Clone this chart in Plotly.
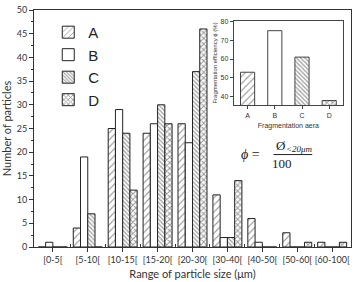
import plotly.graph_objects as go

categories = ["[0-5[", "[5-10[", "[10-15[", "[15-20[", "[20-30[", "[30-40[", "[40-50[", "[50-60[", "[60-100["]
series_names = ["A", "B", "C", "D"]
values_A = [0, 4, 25, 24, 26, 11, 6, 3, 1]
values_B = [1, 19, 29, 26, 22, 2, 1, 0, 0]
values_C = [0, 7, 24, 30, 37, 2, 0, 0, 0]
values_D = [0, 0, 12, 26, 46, 14, 0, 1, 1]

inset_categories = ["A", "B", "C", "D"]
inset_values = [53, 75, 61, 38]

y_ticks = [0, 5, 10, 15, 20, 25, 30, 35, 40, 45, 50]
inset_y_ticks = [40, 50, 60, 70, 80]

styles = {
    "A": dict(shape="/", fg="#3a3a3a", size=5, solidity=0.22),
    "B": dict(shape="", fg="#333333", size=5, solidity=0.3),
    "C": dict(shape="\\", fg="#4a4a4a", size=3, solidity=0.45),
    "D": dict(shape="x", fg="#333333", size=4, solidity=0.45),
}

FONT = "Lato"
TXT = "#333333"
fig = go.Figure()
xs = list(range(len(categories)))
for name, vals in zip(series_names, [values_A, values_B, values_C, values_D]):
    st = styles[name]
    fig.add_trace(go.Bar(
        x=xs, y=vals, name=name,
        marker=dict(color="white", line=dict(color="#222222", width=1),
                    pattern=dict(shape=st["shape"], fgcolor=st["fg"], bgcolor="white",
                                 size=st["size"], solidity=st["solidity"], fillmode="overlay")),
        xaxis="x", yaxis="y",
    ))

fig.add_trace(go.Bar(
    x=list(range(len(inset_categories))), y=inset_values, showlegend=False, width=0.52,
    marker=dict(color="white", line=dict(color="#444444", width=1),
                pattern=dict(shape=[styles[c]["shape"] for c in inset_categories],
                             fgcolor=[styles[c]["fg"] for c in inset_categories],
                             bgcolor="white", size=[styles[c]["size"] for c in inset_categories],
                             solidity=[styles[c]["solidity"] for c in inset_categories],
                             fillmode="overlay")),
    xaxis="x2", yaxis="y2",
))

fig.update_layout(
    width=356, height=282,
    margin=dict(l=33, r=4, t=6, b=35),
    paper_bgcolor="white", plot_bgcolor="white",
    barmode="group", bargap=0.17, bargroupgap=0,
    font=dict(family=FONT, color=TXT, size=9),
    showlegend=True,
    legend=dict(x=0.045, y=0.975, xanchor="left", yanchor="top", bgcolor="rgba(0,0,0,0)",
                font=dict(size=15, family="Liberation Sans", color="#222222"),
                tracegroupgap=0, itemwidth=30),
    xaxis=dict(
        domain=[0, 1], range=[-0.54, 8.54],
        tickmode="array", tickvals=xs, ticktext=categories,
        ticks="outside", ticklen=4, tickcolor="#333333",
        minor=dict(tickvals=[i + 0.5 for i in xs[:-1]], ticks="inside", ticklen=3, tickcolor="#333333"),
        showline=True, linecolor="#333333", linewidth=1, mirror=True,
        showgrid=False, zeroline=False,
        tickfont=dict(size=9, family=FONT, color=TXT),
        title=dict(text="Range of particle size (μm)", font=dict(size=11, family=FONT, color=TXT), standoff=6),
    ),
    yaxis=dict(
        domain=[0, 1], range=[0, 50],
        tickmode="array", tickvals=y_ticks,
        ticks="outside", ticklen=4, tickcolor="#333333",
        minor=dict(dtick=2.5, ticks="outside", ticklen=2, tickcolor="#333333"),
        showline=True, linecolor="#333333", linewidth=1, mirror=True,
        showgrid=False, zeroline=False,
        tickfont=dict(size=9, family=FONT, color=TXT),
        title=dict(text="Number of particles", font=dict(size=11, family=FONT, color=TXT), standoff=5),
    ),
    xaxis2=dict(
        domain=[0.630, 0.975], anchor="y2", range=[-0.51, 3.51],
        tickmode="array", tickvals=list(range(len(inset_categories))), ticktext=inset_categories,
        ticks="outside", ticklen=3, tickcolor="#444444",
        showline=True, linecolor="#444444", linewidth=1, mirror=True,
        showgrid=False, zeroline=False,
        tickfont=dict(size=7, family="Liberation Sans", color=TXT),
        title=dict(text="Fragmentation aera", font=dict(size=7, family="Liberation Sans", color=TXT), standoff=5),
    ),
    yaxis2=dict(
        domain=[0.598, 0.955], anchor="x2", range=[35.5, 80.3],
        tickmode="array", tickvals=inset_y_ticks,
        ticks="outside", ticklen=3, tickcolor="#444444",
        showline=True, linecolor="#444444", linewidth=1, mirror=True,
        showgrid=False, zeroline=False,
        tickfont=dict(size=7, family="Liberation Sans", color=TXT),
        title=dict(text="Fragmentation efficiency ϕ (%)", font=dict(size=6, family="Liberation Sans", color=TXT), standoff=2),
    ),
)

fig.add_shape(type="rect", xref="x2 domain", yref="y2 domain", x0=0, x1=1, y0=0, y1=1,
              fillcolor="white", line=dict(width=0), layer="below")

SERIF = "Liberation Serif"
def px(xp, yp):
    return (xp - 33) / 319, (247 - yp) / 241

x, y = px(262, 153)
fig.add_annotation(xref="paper", yref="paper", x=x, y=y, text="<i>ϕ</i> =", showarrow=False,
                   font=dict(size=14, family=SERIF, color="#222222"))
x, y = px(275, 144)
fig.add_annotation(xref="paper", yref="paper", x=x, y=y, xanchor="left", text="Ø", showarrow=False,
                   font=dict(size=13, family=SERIF, color="#222222"))
x, y = px(285, 147)
fig.add_annotation(xref="paper", yref="paper", x=x, y=y, xanchor="left", text="<i>&lt;20μm</i>",
                   showarrow=False, font=dict(size=9, family=SERIF, color="#222222"))
x, y = px(295, 162)
fig.add_annotation(xref="paper", yref="paper", x=x, y=y, text="100", showarrow=False,
                   font=dict(size=13, family=SERIF, color="#222222"))
x0, y0 = px(274, 153)
x1, _ = px(313, 153)
fig.add_shape(type="line", xref="paper", yref="paper", x0=x0, x1=x1, y0=y0, y1=y0,
              line=dict(color="#222222", width=1))

fig.write_html("out.html")
